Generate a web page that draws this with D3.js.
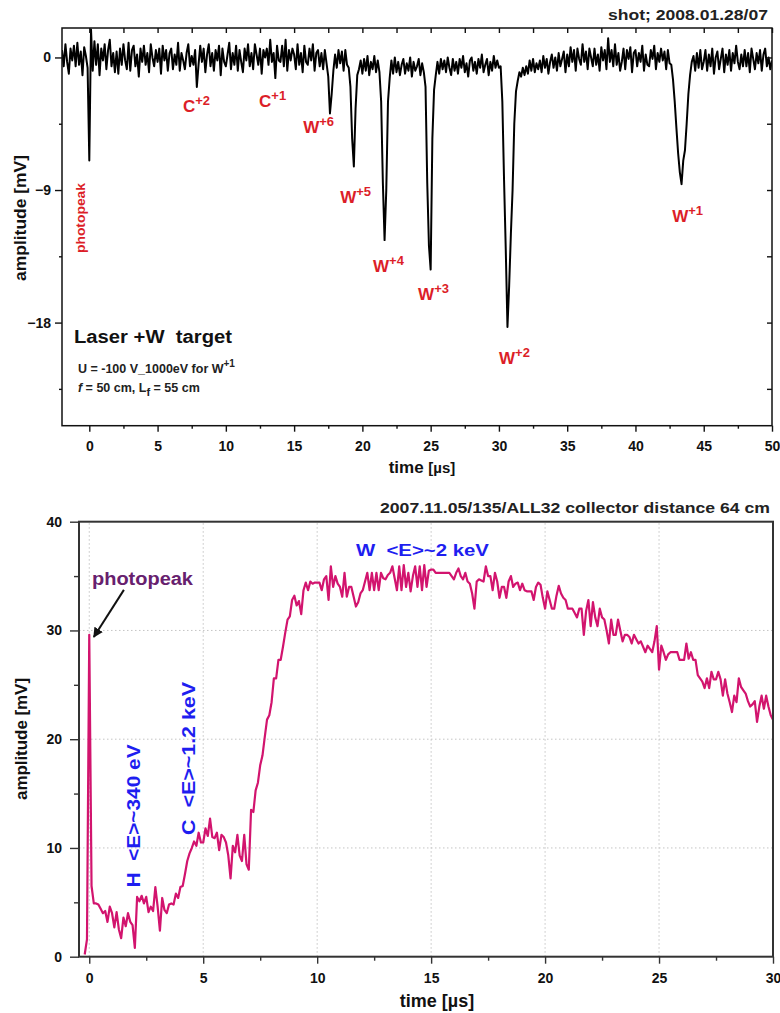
<!DOCTYPE html>
<html><head><meta charset="utf-8">
<script src="https://cdn.jsdelivr.net/npm/d3@7"></script>
<style>
body{margin:0;background:#fff;}
svg{display:block;font-family:Arial,"Liberation Sans",Helvetica,sans-serif;}
text{white-space:pre;}
</style></head><body>
<svg id="chart" width="780" height="1013"></svg>
<script>
// ---------------- TOP PANEL DATA (time of flight, shot 2008.01.28/07) ----------------
const topStart = -2;          // µs, first sample
const topStep = 0.125;        // µs, sampling interval
const topAmplitude = [
 0.5,-0.6,0.9,-0.3,-1.1,0.6,-0.2,0.8,      // -2
 -0.6,1.0,-0.5,0.4,-1.2,0.7,0.1,-0.7,      // -1
 -7.0,1.9,-0.9,1.1,-0.5,0.9,-1.2,0.6,      // 0
 -0.2,0.9,-0.8,0.5,1.2,-0.6,0.3,-1.0,      // 1
 0.4,-1.1,0.6,-0.5,0.9,-0.2,-0.8,1.0,      // 2
 -0.9,0.5,0.8,-0.6,0.2,-1.3,0.6,-0.3,      // 3
 0.8,-0.5,0.3,-1.0,0.9,0.0,-0.6,0.5,       // 4
 -0.3,0.6,-1.1,0.8,-0.2,0.5,-0.9,0.3,      // 5
 0.6,-0.8,0.2,-0.5,1.0,-0.9,0.3,-0.2,      // 6
 -0.8,0.3,0.9,-0.6,0.1,-0.5,0.5,-2.0,      // 7
 -0.5,0.8,-0.3,0.6,-1.0,0.2,0.9,-0.6,      // 8
 0.3,-0.9,0.5,-0.2,0.8,-1.2,0.6,-0.3,      // 9
 -0.6,0.2,1.0,-0.8,0.3,-0.5,0.8,-0.9,      // 10
 0.5,-0.3,-1.0,0.6,-0.2,0.9,-0.6,0.3,      // 11
 -0.8,0.9,0.2,-0.5,0.6,-1.1,0.5,0.0,       // 12
 0.6,-0.5,1.2,-0.3,0.3,-1.4,0.8,-0.2,      // 13
 -0.3,0.8,-0.6,1.2,-0.9,0.5,-0.2,0.6,      // 14
 0.2,-0.8,0.9,-0.5,0.3,-1.0,0.8,-0.3,      // 15
 -0.5,0.6,-0.2,0.9,-0.9,0.3,0.5,-0.6,      // 16
 0.3,-0.8,0.5,-0.4,-1.3,-3.8,-2.5,-0.9,    // 17
 0.2,-0.7,0.5,-0.4,0.4,-0.9,0.5,-0.5,      // 18
 -0.7,-2.0,-5.5,-7.4,-3.5,-1.2,-0.8,-0.2,  // 19
 -1.1,-0.1,-0.9,0.1,-1.2,-0.3,-0.8,0.1,    // 20
 -1.0,-0.2,-1.0,-3.0,-8.5,-12.4,-9.0,-3.0, // 21
 -1.4,-0.2,-1.1,0.0,-1.0,-0.3,-1.2,-0.5,   // 22
 -0.1,-1.1,-0.4,-0.9,0.0,-1.3,-0.3,-0.9,   // 23
 -0.6,-0.1,-1.2,-0.4,-1.0,-2.0,-8.5,-12.8, // 24
 -14.4,-5.5,-2.2,-1.2,-0.3,-1.1,-0.1,-0.8, // 25
 -0.2,-1.0,0.0,-0.7,-1.2,-0.1,-0.9,-0.3,   // 26
 -1.1,-0.1,-0.7,0.1,-1.0,-0.4,-1.3,-0.2,   // 27
 0.0,-0.9,-0.3,-1.1,-0.1,-0.7,0.2,-1.0,    // 28
 -0.5,-0.1,-1.2,-0.3,-0.9,0.1,-0.7,-0.2,   // 29
 -0.7,-0.6,-3.0,-8.3,-13.0,-18.3,-15.5,-12.0, // 30
 -9.0,-4.5,-2.3,-1.6,-1.0,-1.3,-0.7,-1.2,  // 31
 -0.6,-1.1,-0.2,-0.9,-0.1,-1.0,-0.4,-0.8,  // 32
 -0.2,-1.0,0.1,-0.7,-0.1,-1.1,-0.3,0.2,    // 33
 -0.7,0.0,-0.9,0.3,-0.6,-0.1,0.4,-1.0,     // 34
 0.2,-0.6,0.7,-0.3,0.5,-0.9,0.6,-0.1,      // 35
 -0.5,0.9,-0.3,0.4,-0.8,0.6,0.0,-0.6,      // 36
 0.6,-0.5,0.2,-0.9,0.7,-0.2,0.5,-0.8,      // 37
 1.3,-0.3,0.5,-0.6,0.9,-0.5,0.3,-0.9,      // 38
 -0.3,0.6,-0.8,0.5,-0.1,0.7,-1.0,0.3,      // 39
 0.5,-0.6,0.3,-0.3,0.8,-0.9,0.2,-0.5,      // 40
 -0.6,0.5,-0.1,0.8,-0.8,0.3,-0.3,0.6,      // 41
 -0.2,0.4,-0.8,0.5,-0.4,-0.5,-1.5,-3.0,    // 42
 -4.8,-6.5,-7.8,-8.6,-7.0,-6.3,-4.5,-2.5,  // 43
 -1.2,-0.3,0.1,-0.9,0.3,-0.7,0.5,-0.8,     // 44
 -0.3,0.5,-0.9,0.2,-0.6,0.6,-1.1,0.0,      // 45
 0.4,-0.8,-0.1,0.6,-1.0,0.2,-0.5,0.5,      // 46
 -0.9,0.3,-0.4,0.8,-0.3,-0.8,0.2,-0.6,     // 47
 0.5,-0.6,0.3,-1.0,0.6,-0.1,-0.8,0.3,      // 48
 -0.4,0.5,-0.9,0.2,0.6,-0.6,0.0,-0.8,      // 49
 -0.2                                      // 50
];
const topXMajor = [0,5,10,15,20,25,30,35,40,45,50];
const topXMinor = [2.5,7.5,12.5,17.5,22.5,27.5,32.5,37.5,42.5,47.5];
const topYMajor = [0,-9,-18];
const topYMinor = [-4.5,-13.5,-22.5];
// peak labels: [base, superscript, time µs, amplitude mV]
const topPeakLabels = [
 ["C","+2",6.86,-3.72],["C","+1",12.43,-3.39],["W","+6",15.66,-5.15],
 ["W","+5",18.37,-9.88],["W","+4",20.78,-14.56],["W","+3",24.08,-16.45],
 ["W","+2",30.01,-20.79],["W","+1",42.69,-11.17]
];

// ---------------- BOTTOM PANEL DATA (2007.11.05/135/ALL32) ----------------
const botStart = -0.2;
const botStep = 0.1;
const botAmplitude = [
 0.2,1.6,
 29.6,6.5,4.9,4.9,4.8,4.4,4.0,4.2,3.2,4.6,
 4.0,2.7,4.1,2.5,1.7,3.6,2.8,4.0,3.2,2.9,
 0.8,5.5,5.1,5.6,4.9,5.5,4.1,4.6,4.2,6.4,
 4.6,2.4,5.4,4.3,4.0,4.8,4.9,4.8,5.8,5.4,
 6.4,6.5,7.6,8.8,9.5,10.0,10.6,10.2,11.4,10.5,
 10.5,11.8,11.1,12.7,11.0,10.9,11.4,9.8,11.2,11.0,
 10.5,9.3,7.2,10.2,9.6,11.2,9.3,8.8,11.2,8.5,
 8.0,13.5,13.3,15.3,16.0,17.6,18.5,20.2,21.8,22.2,
 23.4,25.6,25.6,27.3,27.3,28.5,29.8,31.0,31.3,32.8,
 33.2,32.3,32.7,31.5,33.7,34.4,33.7,34.5,34.3,34.4,
 34.4,34.4,33.7,34.7,35.0,32.8,35.9,34.0,35.0,34.3,
 34.0,33.1,35.3,33.1,34.0,34.0,33.1,32.2,32.6,33.4,
 33.7,34.5,35.3,33.7,35.3,33.7,35.3,33.7,35.3,34.8,
 34.7,35.1,35.3,35.9,34.8,33.7,35.9,33.7,36.0,34.0,
 35.3,33.6,35.0,35.9,34.0,35.9,33.7,36.0,34.0,35.5,
 35.6,35.6,35.3,35.3,35.3,35.3,35.3,35.3,35.3,35.0,
 34.7,35.3,35.7,35.0,34.7,35.3,34.5,34.3,33.4,32.0,
 34.5,34.7,34.6,34.5,35.9,35.0,35.0,33.7,35.3,34.5,
 33.0,34.0,34.0,33.0,34.5,35.0,34.0,34.3,34.4,33.7,
 34.3,33.7,33.6,33.6,33.6,32.8,34.0,34.4,34.2,33.0,
 32.0,33.6,32.8,32.0,32.0,33.2,34.1,33.4,33.0,32.8,
 32.0,32.0,32.0,31.6,31.2,32.0,32.0,29.6,31.8,32.8,
 30.4,32.6,31.2,30.4,32.0,31.2,31.0,30.0,28.8,31.0,
 29.6,29.6,31.0,30.0,29.0,29.6,29.6,29.4,28.8,29.6,
 29.2,28.8,29.0,28.5,28.0,28.6,28.3,28.0,29.0,30.4,
 26.4,28.6,28.0,27.3,27.8,28.0,28.0,28.0,28.0,27.3,
 27.3,27.3,28.8,27.4,28.0,27.3,27.3,25.9,25.6,25.3,
 24.7,25.6,24.7,26.2,25.5,25.5,26.2,25.5,24.0,25.5,
 24.2,23.4,22.5,24.0,23.4,25.6,24.8,24.5,24.2,23.5,
 23.0,23.2,23.5,21.6,23.0,24.0,22.8,24.0,23.0,22.2,
 21.8
];
const botXMajor = [0,5,10,15,20,25,30];
const botXMinor = [2.5,7.5,12.5,17.5,22.5,27.5];
const botYMajor = [0,10,20,30,40];
const botYMinor = [5,15,25,35];
const botGridX = [0,5,10,15,20,25];
const botGridY = [10,20,30];

// ---------------- DRAWING ----------------
const FONT = 'Arial,"Liberation Sans",Helvetica,sans-serif';
const svg = d3.select("#chart");

function styleAxis(g, size, color){
  g.attr("font-family", FONT).attr("font-size", size).attr("font-weight","bold");
  g.select(".domain").remove();
  g.selectAll(".tick line").attr("stroke", color).attr("stroke-width", 1.4);
  g.selectAll(".tick text").attr("fill", "#111");
}

// ===== TOP PANEL =====
const x1 = d3.scaleLinear().domain([-2,50]).range([62,772]);
const y1 = d3.scaleLinear().domain([-25,2]).range([425.7,28]);
svg.append("clipPath").attr("id","c1").append("rect")
  .attr("x",62).attr("y",28).attr("width",710).attr("height",397.7);

const topPts = topAmplitude.map((v,i)=>[topStart+i*topStep, v]);
svg.append("path").datum(topPts)
  .attr("clip-path","url(#c1)")
  .attr("fill","none").attr("stroke","#000").attr("stroke-width",2)
  .attr("stroke-linejoin","round")
  .attr("d", d3.line().x(d=>x1(d[0])).y(d=>y1(d[1])));

// axes
let g;
g = svg.append("g").attr("transform","translate(0,425.7)")
  .call(d3.axisBottom(x1).tickValues(topXMajor).tickSize(6).tickPadding(9).tickFormat(d3.format("d")));
styleAxis(g,14,"#111");
g = svg.append("g").attr("transform","translate(0,425.7)")
  .call(d3.axisBottom(x1).tickValues(topXMinor).tickSize(3).tickFormat(""));
styleAxis(g,14,"#111");
g = svg.append("g").attr("transform","translate(0,28)")
  .call(d3.axisTop(x1).tickValues(topXMajor.concat(topXMinor)).tickSize(-5).tickFormat(""));
styleAxis(g,14,"#111");
g = svg.append("g").attr("transform","translate(62,0)")
  .call(d3.axisLeft(y1).tickValues(topYMajor).tickSize(7).tickPadding(4).tickFormat(d3.format("d")));
styleAxis(g,14,"#111");
g = svg.append("g").attr("transform","translate(62,0)")
  .call(d3.axisLeft(y1).tickValues(topYMinor).tickSize(3).tickFormat(""));
styleAxis(g,14,"#111");
g = svg.append("g").attr("transform","translate(772,0)")
  .call(d3.axisRight(y1).tickValues(topYMajor.concat(topYMinor)).tickSize(-5).tickFormat(""));
styleAxis(g,14,"#111");
svg.append("rect").attr("x",62).attr("y",28).attr("width",710).attr("height",397.7)
  .attr("fill","none").attr("stroke","#111").attr("stroke-width",1.5);

// titles
svg.append("text").attr("x",768).attr("y",20).attr("text-anchor","end")
  .attr("font-family",FONT).attr("font-size",15).attr("font-weight","bold").attr("fill","#222")
  .attr("textLength",160).attr("lengthAdjust","spacingAndGlyphs")
  .text("shot; 2008.01.28/07");
svg.append("text").attr("transform","translate(26,218) rotate(-90)").attr("text-anchor","middle")
  .attr("font-family",FONT).attr("font-size",16).attr("font-weight","bold").attr("fill","#111")
  .attr("textLength",126).attr("lengthAdjust","spacingAndGlyphs")
  .text("amplitude [mV]");
const tl = svg.append("text").attr("x",422).attr("y",473).attr("text-anchor","middle")
  .attr("font-family",FONT).attr("font-weight","bold").attr("fill","#111");
tl.append("tspan").attr("font-size",17).text("time ");
tl.append("tspan").attr("font-size",15).text("[µs]");

// peak labels
const RED = "#dc1e28";
topPeakLabels.forEach(([b,s,t,v])=>{
  const tx = svg.append("text").attr("x",x1(t)).attr("y",y1(v))
    .attr("font-family",FONT).attr("font-weight","bold").attr("fill",RED);
  tx.append("tspan").attr("font-size",17).text(b);
  tx.append("tspan").attr("font-size",13).attr("dy",-7).text(s);
});
svg.append("text").attr("transform",`translate(${x1(-0.28)},${y1(-10.9)}) rotate(-90)`)
  .attr("text-anchor","middle").attr("font-family",FONT).attr("font-size",13)
  .attr("font-weight","bold").attr("fill",RED)
  .attr("textLength",70).attr("lengthAdjust","spacingAndGlyphs").text("photopeak");

// experiment notes
svg.append("text").attr("x",x1(-1.12)).attr("y",y1(-19.36))
  .attr("font-family",FONT).attr("font-size",18).attr("font-weight","bold").attr("fill","#111")
  .attr("textLength",158).attr("lengthAdjust","spacingAndGlyphs")
  .text("Laser +W  target");
const u = svg.append("text").attr("x",x1(-0.83)).attr("y",y1(-21.4))
  .attr("font-family",FONT).attr("font-weight","bold").attr("fill","#222");
u.append("tspan").attr("font-size",12.5).text("U = -100 V_1000eV for W");
u.append("tspan").attr("font-size",10).attr("dy",-6).text("+1");
const f = svg.append("text").attr("x",x1(-0.83)).attr("y",y1(-22.7))
  .attr("font-family",FONT).attr("font-weight","bold").attr("fill","#222").attr("font-size",12.5);
f.append("tspan").attr("font-style","italic").text("f");
f.append("tspan").text(" = 50 cm, L");
f.append("tspan").attr("font-size",11).attr("dy",4).text("f");
f.append("tspan").attr("dy",-4).text(" = 55 cm");

// ===== BOTTOM PANEL =====
const x2 = d3.scaleLinear().domain([-0.45,30]).range([79,773]);
const y2 = d3.scaleLinear().domain([0,40]).range([956.7,521.7]);
svg.append("clipPath").attr("id","c2").append("rect")
  .attr("x",79).attr("y",521.7).attr("width",694).attr("height",435);

// grid
svg.append("g").selectAll("line").data(botGridX).join("line")
  .attr("x1",d=>x2(d)).attr("x2",d=>x2(d)).attr("y1",y2(0)).attr("y2",y2(40))
  .attr("stroke","#c4c4c4").attr("stroke-width",1).attr("stroke-dasharray","1.5,2.5");
svg.append("g").selectAll("line").data(botGridY).join("line")
  .attr("x1",x2(-0.45)).attr("x2",x2(30)).attr("y1",d=>y2(d)).attr("y2",d=>y2(d))
  .attr("stroke","#c4c4c4").attr("stroke-width",1).attr("stroke-dasharray","1.5,2.5");

const botPts = botAmplitude.map((v,i)=>[botStart+i*botStep, v]);
svg.append("path").datum(botPts)
  .attr("clip-path","url(#c2)")
  .attr("fill","none").attr("stroke","#d2146e").attr("stroke-width",2.2)
  .attr("stroke-linejoin","round")
  .attr("d", d3.line().x(d=>x2(d[0])).y(d=>y2(d[1])));

g = svg.append("g").attr("transform","translate(0,956.7)")
  .call(d3.axisBottom(x2).tickValues(botXMajor).tickSize(7).tickPadding(9).tickFormat(d3.format("d")));
styleAxis(g,14,"#333");
g = svg.append("g").attr("transform","translate(0,956.7)")
  .call(d3.axisBottom(x2).tickValues(botXMinor).tickSize(4).tickFormat(""));
styleAxis(g,14,"#333");
g = svg.append("g").attr("transform","translate(79,0)")
  .call(d3.axisLeft(y2).tickValues(botYMajor).tickSize(9).tickPadding(8).tickFormat(d3.format("d")));
styleAxis(g,14,"#333");
g = svg.append("g").attr("transform","translate(79,0)")
  .call(d3.axisLeft(y2).tickValues(botYMinor).tickSize(5).tickFormat(""));
styleAxis(g,14,"#333");
svg.append("rect").attr("x",79).attr("y",521.7).attr("width",694).attr("height",435)
  .attr("fill","none").attr("stroke","#333").attr("stroke-width",2);

svg.append("text").attr("x",770).attr("y",513).attr("text-anchor","end")
  .attr("font-family",FONT).attr("font-size",15).attr("font-weight","bold").attr("fill","#222")
  .attr("textLength",390).attr("lengthAdjust","spacingAndGlyphs")
  .text("2007.11.05/135/ALL32 collector distance 64 cm");
svg.append("text").attr("transform","translate(27,739) rotate(-90)").attr("text-anchor","middle")
  .attr("font-family",FONT).attr("font-size",16).attr("font-weight","bold").attr("fill","#111")
  .attr("textLength",122).attr("lengthAdjust","spacingAndGlyphs")
  .text("amplitude [mV]");
svg.append("text").attr("x",437).attr("y",1007).attr("text-anchor","middle")
  .attr("font-family",FONT).attr("font-size",18).attr("font-weight","bold").attr("fill","#111")
  .text("time [µs]");

// annotations
const BLUE = "#1e1ef0";
svg.append("text").attr("x",x2(0.12)).attr("y",y2(34.2))
  .attr("font-family",FONT).attr("font-size",18).attr("font-weight","bold").attr("fill","#67206e")
  .attr("textLength",101).attr("lengthAdjust","spacingAndGlyphs")
  .text("photopeak");
svg.append("defs").append("marker").attr("id","ah").attr("viewBox","0 0 10 10")
  .attr("refX",9).attr("refY",5).attr("markerWidth",5).attr("markerHeight",5)
  .attr("orient","auto").append("path").attr("d","M0,0L10,5L0,10z").attr("fill","#111");
svg.append("line").attr("x1",x2(1.52)).attr("y1",y2(33.73)).attr("x2",x2(0.2)).attr("y2",y2(29.4))
  .attr("stroke","#111").attr("stroke-width",2).attr("marker-end","url(#ah)");
svg.append("text").attr("x",x2(11.7)).attr("y",y2(36.87))
  .attr("font-family",FONT).attr("font-size",17).attr("font-weight","bold").attr("fill",BLUE)
  .attr("textLength",133).attr("lengthAdjust","spacingAndGlyphs")
  .text("W  <E>~2 keV");
svg.append("text").attr("transform",`translate(${x2(2.22)},${y2(12.94)}) rotate(-90)`)
  .attr("text-anchor","middle").attr("font-family",FONT).attr("font-size",18).attr("font-weight","bold")
  .attr("fill",BLUE).attr("textLength",143).attr("lengthAdjust","spacingAndGlyphs")
  .text("H  <E>~340 eV");
svg.append("text").attr("transform",`translate(${x2(4.62)},${y2(18.23)}) rotate(-90)`)
  .attr("text-anchor","middle").attr("font-family",FONT).attr("font-size",18).attr("font-weight","bold")
  .attr("fill",BLUE).attr("textLength",153).attr("lengthAdjust","spacingAndGlyphs")
  .text("C  <E>~1.2 keV");
</script>
</body></html>
